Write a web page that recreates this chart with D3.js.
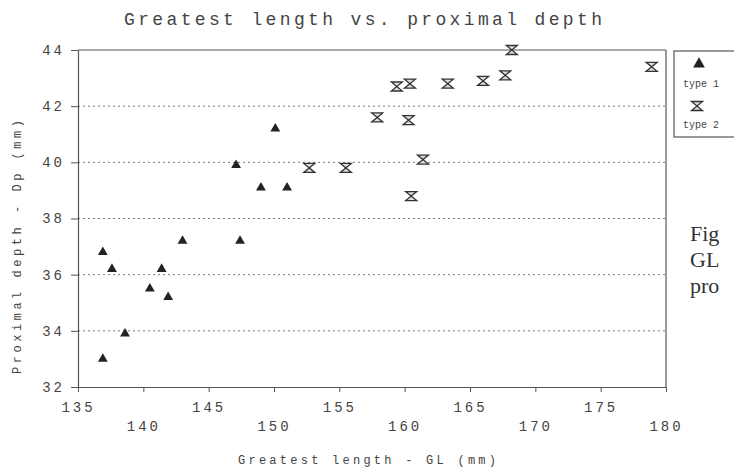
<!DOCTYPE html>
<html>
<head>
<meta charset="utf-8">
<script src="https://cdn.jsdelivr.net/npm/d3@7"></script>
<style>
    body { margin: 0; background: #fff; }
    svg { display: block; }
    .mono { font-family: "Liberation Mono", "Courier New", monospace; fill: #444; }
</style>
</head>
<body>
<div id="chart"></div>
<script>
// type 1 (triangles)
const type1GL = [136.9, 137.6, 140.5, 141.4, 141.9, 143.0, 138.6, 136.9, 147.1, 149.0, 147.4, 150.1, 151.0];
const type1Dp = [36.8, 36.2, 35.5, 36.2, 35.2, 37.2, 33.9, 33.0, 39.9, 39.1, 37.2, 41.2, 39.1];
// type 2 (hourglass)
const type2GL = [152.7, 155.5, 157.9, 160.3, 161.4, 160.5, 159.4, 160.4, 163.3, 166.0, 167.7, 168.2, 178.9];
const type2Dp = [39.8, 39.8, 41.6, 41.5, 40.1, 38.8, 42.7, 42.8, 42.8, 42.9, 43.1, 44.0, 43.4];

const xTicks = [135, 140, 145, 150, 155, 160, 165, 170, 175, 180];
const yTicks = [32, 34, 36, 38, 40, 42, 44];
const gridValues = [34, 36, 38, 40, 42];
const legendLabels = ['type 1', 'type 2'];
const sideText = ['Fig', 'GL', 'pro'];

const width = 734;
const height = 470;
const plotLeft = 78, plotRight = 666, plotTop = 50, plotBottom = 387;

const svg = d3.select('#chart').append('svg')
    .attr('width', width)
    .attr('height', height);

const x = d3.scaleLinear().domain([135, 180]).range([plotLeft, plotRight]);
const y = d3.scaleLinear().domain([32, 44]).range([plotBottom, plotTop]);

// grid lines
svg.append('g').selectAll('line')
    .data(gridValues)
    .enter().append('line')
    .attr('x1', plotLeft).attr('x2', plotRight)
    .attr('y1', d => y(d)).attr('y2', d => y(d))
    .attr('stroke', '#777')
    .attr('stroke-width', 1)
    .attr('stroke-dasharray', '2,3');

// top and right frame
svg.append('line')
    .attr('x1', plotLeft).attr('x2', plotRight).attr('y1', plotTop).attr('y2', plotTop)
    .attr('stroke', '#555').attr('stroke-width', 1.2);
svg.append('line')
    .attr('x1', plotRight).attr('x2', plotRight).attr('y1', plotTop).attr('y2', plotBottom)
    .attr('stroke', '#555').attr('stroke-width', 1.2);

// x axis with staggered labels
const xAxis = svg.append('g')
    .attr('transform', `translate(0,${plotBottom})`)
    .call(d3.axisBottom(x).tickValues(xTicks).tickSize(5).tickSizeOuter(0));
xAxis.select('.domain').attr('stroke', '#555').attr('stroke-width', 1.2);
xAxis.selectAll('.tick line').attr('stroke', '#555');
xAxis.selectAll('.tick text')
    .attr('class', 'mono')
    .style('font-size', '14px')
    .style('letter-spacing', '3px')
    .attr('y', (d, i) => i % 2 === 0 ? 21 : 40)
    .attr('dy', '0.32em');

// y axis
const yAxis = svg.append('g')
    .attr('transform', `translate(${plotLeft},0)`)
    .call(d3.axisLeft(y).tickValues(yTicks).tickSize(7).tickSizeOuter(0).tickPadding(6));
yAxis.select('.domain').attr('stroke', '#555').attr('stroke-width', 1.2);
yAxis.selectAll('.tick line').attr('stroke', '#555');
yAxis.selectAll('.tick text')
    .attr('class', 'mono')
    .style('font-size', '14px')
    .style('letter-spacing', '3px');

// title and axis titles
svg.append('text')
    .attr('class', 'mono')
    .attr('x', 363).attr('y', 25)
    .attr('text-anchor', 'middle')
    .attr('textLength', 478)
    .style('font-size', '18px')
    .text('Greatest length vs. proximal depth');

svg.append('text')
    .attr('class', 'mono')
    .attr('x', 367).attr('y', 464)
    .attr('text-anchor', 'middle')
    .attr('textLength', 258)
    .style('font-size', '12px')
    .text('Greatest length - GL (mm)');

svg.append('text')
    .attr('class', 'mono')
    .attr('transform', 'translate(21,247) rotate(-90)')
    .attr('text-anchor', 'middle')
    .attr('textLength', 254)
    .style('font-size', '12px')
    .text('Proximal depth - Dp (mm)');

// markers
const triangle = d3.symbol().type(d3.symbolTriangle).size(42);
const hourglass = 'M-5.5,-4.5H5.5L-5.5,4.5H5.5Z';

const t1 = type1GL.map((gl, i) => ({ gl: gl, dp: type1Dp[i] }));
const t2 = type2GL.map((gl, i) => ({ gl: gl, dp: type2Dp[i] }));

svg.append('g').selectAll('path')
    .data(t1)
    .enter().append('path')
    .attr('d', triangle)
    .attr('transform', d => `translate(${x(d.gl)},${y(d.dp)})`)
    .attr('fill', '#222');

svg.append('g').selectAll('path')
    .data(t2)
    .enter().append('path')
    .attr('d', hourglass)
    .attr('transform', d => `translate(${x(d.gl)},${y(d.dp)})`)
    .attr('fill', '#ddd')
    .attr('stroke', '#333')
    .attr('stroke-width', 1.3);

// legend (clipped at the right edge)
const legend = svg.append('g');
legend.append('rect')
    .attr('x', 674).attr('y', 51)
    .attr('width', 80).attr('height', 86)
    .attr('fill', 'none')
    .attr('stroke', '#555')
    .attr('stroke-width', 1.2);
legend.append('path')
    .attr('d', d3.symbol().type(d3.symbolTriangle).size(60))
    .attr('transform', 'translate(699,64)')
    .attr('fill', '#222');
legend.append('path')
    .attr('d', hourglass)
    .attr('transform', 'translate(697,106)')
    .attr('fill', '#ddd')
    .attr('stroke', '#333')
    .attr('stroke-width', 1.3);
legend.selectAll('.legend-label')
    .data(legendLabels)
    .enter().append('text')
    .attr('class', 'mono legend-label')
    .attr('x', 683)
    .attr('y', (d, i) => i === 0 ? 87 : 128)
    .style('font-size', '10px')
    .text(d => d);

// cut-off caption to the right
svg.append('g').selectAll('text')
    .data(sideText)
    .enter().append('text')
    .attr('x', 690)
    .attr('y', (d, i) => 241 + i * 26)
    .style('font-family', '"Liberation Serif", "Times New Roman", serif')
    .style('font-size', '22px')
    .style('fill', '#333')
    .text(d => d);
</script>
</body>
</html>
